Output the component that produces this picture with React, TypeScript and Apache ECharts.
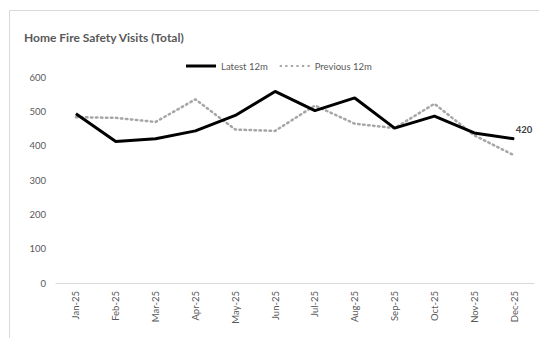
import React, { useEffect, useRef } from "react";
import * as echarts from "echarts";

const categories = ["Jan-25", "Feb-25", "Mar-25", "Apr-25", "May-25", "Jun-25", "Jul-25", "Aug-25", "Sep-25", "Oct-25", "Nov-25", "Dec-25"];
const latest12m = [493, 412, 420, 443, 488, 558, 502, 539, 451, 486, 437, 420];
const previous12m = [483, 481, 469, 535, 447, 443, 517, 464, 451, 522, 430, 372];
const yTicks = { min: 0, max: 600, interval: 100 };

export default function App() {
  const ref = useRef<HTMLDivElement>(null);
  useEffect(() => {
    if (!ref.current) return;
    const chart = echarts.init(ref.current, null, { renderer: "svg" });
    const font = "Lato, 'Open Sans', sans-serif";
    chart.setOption({
      animation: false,
      backgroundColor: "#ffffff",
      textStyle: { fontFamily: font },
      title: {
        text: "Home Fire Safety Visits (Total)",
        left: 11,
        top: 18,
        textStyle: { fontSize: 12, fontWeight: "bold", color: "#595959", fontFamily: font },
      },
      graphic: [
        {
          type: "rect",
          shape: { x: 1.5, y: 2.5, width: 560, height: 340 },
          style: { fill: "none", stroke: "#d9d9d9", lineWidth: 1 },
          silent: true,
        },
      ],
      legend: {
        top: 48,
        left: 173,
        itemWidth: 30,
        itemHeight: 10,
        itemGap: 12,
        textStyle: { fontSize: 9.5, color: "#595959", fontFamily: font },
        data: [
          { name: "Latest 12m", icon: "path://M0,3.5 L30,3.5 L30,6.5 L0,6.5 Z", itemStyle: { color: "#000000" } },
          {
            name: "Previous 12m",
            icon: "path://M0,4 h2 v2 h-2 Z M5,4 h2 v2 h-2 Z M10,4 h2 v2 h-2 Z M15,4 h2 v2 h-2 Z M20,4 h2 v2 h-2 Z M25,4 h2 v2 h-2 Z",
            itemStyle: { color: "#a6a6a6" },
          },
        ],
      },
      grid: { left: 48, right: 13, top: 69, bottom: 55 },
      xAxis: {
        type: "category",
        data: categories,
        boundaryGap: true,
        axisLine: { show: true, lineStyle: { color: "#d9d9d9", width: 1 } },
        axisTick: { show: false },
        axisLabel: { rotate: 90, fontSize: 9.5, color: "#595959", margin: 8 },
      },
      yAxis: {
        type: "value",
        min: yTicks.min,
        max: yTicks.max,
        interval: yTicks.interval,
        splitLine: { show: false },
        axisLine: { show: false },
        axisTick: { show: false },
        axisLabel: { fontSize: 9.5, color: "#595959", margin: 10 },
      },
      series: [
        {
          name: "Latest 12m",
          type: "line",
          data: latest12m.map((v, i) =>
            i === latest12m.length - 1
              ? {
                  value: v,
                  symbol: "circle",
                  symbolSize: 1,
                  label: {
                    show: true,
                    position: "top",
                    offset: [10, 0],
                    distance: 4,
                    fontSize: 9.5,
                    fontWeight: "bold",
                    color: "#404040",
                  },
                }
              : v
          ),
          symbol: "none",
          showSymbol: true,
          lineStyle: { color: "#000000", width: 3 },
          itemStyle: { color: "#000000" },
          z: 3,
        },
        {
          name: "Previous 12m",
          type: "line",
          data: previous12m,
          symbol: "none",
          lineStyle: { color: "#a6a6a6", width: 2.5, type: [1.5, 3.5], cap: "round" },
          itemStyle: { color: "#a6a6a6" },
          z: 2,
        },
      ],
    });
    return () => chart.dispose();
  }, []);
  return <div ref={ref} style={{ width: 539, height: 330 }} />;
}
